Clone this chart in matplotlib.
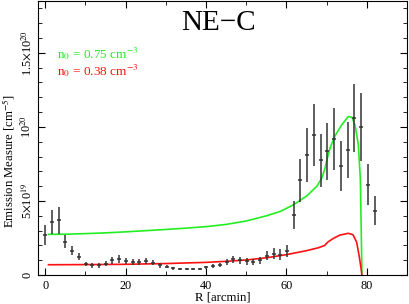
import numpy as np
import matplotlib
matplotlib.use('Agg')
import matplotlib.pyplot as plt
from matplotlib.ticker import MultipleLocator

plt.rcParams['font.family'] = ['Liberation Serif', 'DejaVu Serif']
plt.rcParams['mathtext.fontset'] = 'stix'

# data points (R in arcmin, EM in units of 1e19 cm^-5)
r_data = [0.0, 1.7, 3.3, 5.0, 6.7, 8.4, 10.1, 11.7, 13.4, 15.0, 16.7, 18.4,
          20.1, 21.8, 23.4, 25.1, 26.8, 28.5, 30.2, 31.8, 33.5, 35.2, 36.8,
          38.5, 40.1, 41.8, 43.4, 45.1, 46.8, 48.4, 50.1, 51.7, 53.4, 55.2,
          56.8, 58.5, 60.1, 61.9, 63.5, 65.2, 66.8, 68.5, 70.1, 71.9, 73.5,
          75.3, 76.9, 78.6, 80.2, 82.0]
em_data = [2.7, 3.6, 3.7, 2.25, 1.65, 1.25, 0.74, 0.65, 0.65, 0.77, 1.0, 1.08,
           0.95, 0.86, 0.9, 0.95, 0.85, 0.66, 0.58, 0.45, 0.41, 0.41, 0.41,
           0.43, 0.52, 0.6, 0.7, 0.88, 1.07, 1.0, 0.93, 0.9, 1.0, 1.3,
           1.45, 1.38, 1.65, 4.05, 6.4, 8.1, 9.45, 7.75, 8.35, 9.2, 7.35,
           8.45, 10.6, 10.0, 6.1, 4.35]
em_err = [0.7, 0.8, 0.9, 0.45, 0.3, 0.25, 0.15, 0.15, 0.15, 0.15, 0.25, 0.25,
          0.22, 0.2, 0.22, 0.22, 0.2, 0.15, 0.12, 0.08, 0.06, 0.06, 0.06,
          0.07, 0.1, 0.12, 0.15, 0.2, 0.25, 0.25, 0.25, 0.22, 0.25, 0.3,
          0.35, 0.35, 0.4, 0.93, 1.45, 1.85, 2.1, 1.8, 1.9, 2.1, 1.7,
          1.9, 2.3, 2.3, 1.4, 1.0]

# model n0 = 0.75
r_green = [0.8, 5, 10, 15, 20, 25, 30, 35, 40, 45, 50, 55, 58.5, 61.8, 65.1,
           67.6, 68.8, 69.6, 70.1, 70.9, 72.1, 73.8, 75.4, 76.3, 77.1, 77.9,
           78.4, 78.6, 78.8]
em_green = [2.75, 2.76, 2.8, 2.85, 2.92, 3.0, 3.08, 3.17, 3.27, 3.42, 3.65, 4.0,
            4.3, 4.75, 5.35, 6.0, 6.55, 7.2, 7.8, 8.6, 9.4, 10.15, 10.7, 10.65,
            10.1, 8.8, 6.5, 3.4, 0.0]

# model n0 = 0.38
r_red = [0.8, 10, 20, 30, 40, 45, 50, 55, 60, 65, 68, 69.5, 70.4, 71.7, 73.3,
         75.4, 76.6, 77.5, 78.1, 78.5, 78.8]
em_red = [0.70, 0.71, 0.73, 0.78, 0.86, 0.93, 1.02, 1.17, 1.38, 1.65, 1.85,
          2.0, 2.25, 2.48, 2.7, 2.82, 2.72, 2.2, 1.3, 0.6, 0.0]

scale = 1e19

fig = plt.figure(figsize=(4.09, 3.04), dpi=100)
ax = fig.add_axes([0.093, 0.095, 0.902, 0.902])

ax.plot(r_green, np.array(em_green) * scale, color='#22ee22', lw=1.2)
ax.plot(r_red, np.array(em_red) * scale, color='#ff1111', lw=1.2)
ax.errorbar(r_data, np.array(em_data) * scale, yerr=np.array(em_err) * scale,
            xerr=0.5, fmt='none', ecolor='0.2', elinewidth=1.1, capsize=0)

ax.set_xlim(-1.8, 90)
ax.set_ylim(0, 1.85e20)

ax.xaxis.set_major_locator(MultipleLocator(20))
ax.xaxis.set_minor_locator(MultipleLocator(10))
ax.set_yticks([0, 5e19, 1e20, 1.5e20])
ax.yaxis.set_minor_locator(MultipleLocator(1e19))
ax.set_yticklabels(['0', r'5$\times$10$^{19}$', r'10$^{20}$', r'1.5$\times$10$^{20}$'],
                   rotation=90, va='center')
ax.tick_params(which='both', direction='in', top=True, right=True, labelsize=8.8)
ax.tick_params(axis='y', pad=3)
ax.tick_params(which='major', length=5)
ax.tick_params(which='minor', length=3)

ax.set_xlabel('R [arcmin]', fontsize=9.2, labelpad=0)
ax.set_ylabel(r'Emission Measure [cm$^{-5}$]', fontsize=9.2)
ax.yaxis.set_label_coords(-0.056, 0.416)

ax.text(0.49, 0.92, 'NE\u2212C', transform=ax.transAxes, fontsize=21,
        ha='center', va='center')
ax.text(0.052, 0.807, r'n$_0$ = 0.75 cm$^{-3}$', transform=ax.transAxes,
        color='#22ee22', fontsize=9.5, va='center')
ax.text(0.052, 0.745, r'n$_0$ = 0.38 cm$^{-3}$', transform=ax.transAxes,
        color='#ff1111', fontsize=9.5, va='center')

plt.savefig('out.png', dpi=100)
